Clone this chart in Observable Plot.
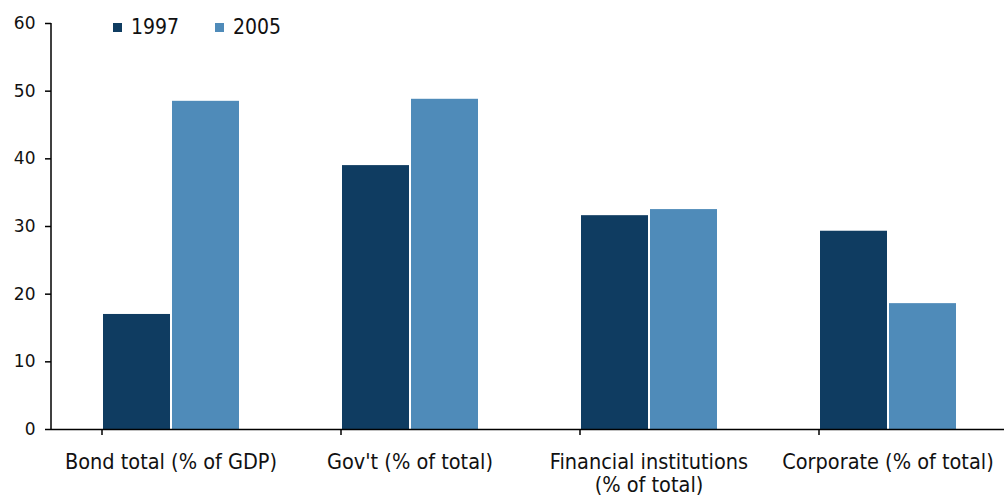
<!DOCTYPE html>
<html>
<head>
<meta charset="utf-8">
<script src="https://cdn.jsdelivr.net/npm/d3@7"></script>
<script src="https://cdn.jsdelivr.net/npm/@observablehq/plot@0.6"></script>
<style>
  body { margin: 0; background: #fff; }
  #wrap { position: relative; width: 1004px; height: 502px; font-family: "DejaVu Sans Condensed", "DejaVu Sans", sans-serif; }
  #legend { position: absolute; left: 0; top: 0; font-size: 21px; color: #111; }
  .item { position: absolute; top: 14px; display: flex; align-items: center; white-space: nowrap; line-height: 26px; }
  .sw { width: 9px; height: 9px; margin-right: 9px; }
</style>
</head>
<body>
<div id="wrap"><div id="legend"></div></div>
<script>
const categories = ["Bond total (% of GDP)", "Gov't (% of total)", "Financial institutions\n(% of total)", "Corporate (% of total)"];
const years = ["1997", "2005"];
const values1997 = [17.0, 39.0, 31.6, 29.3];
const values2005 = [48.5, 48.8, 32.5, 18.6];
const yTicks = [0, 10, 20, 30, 40, 50, 60];
const colors = ["#0f3c61", "#4f8bb9"];

const data = [];
categories.forEach((c, i) => {
  data.push({category: c, year: years[0], value: values1997[i]});
  data.push({category: c, year: years[1], value: values2005[i]});
});

const chart = Plot.plot({
  width: 1004,
  height: 502,
  marginLeft: 51,
  marginRight: -3,
  marginTop: 23,
  marginBottom: 73,
  style: {fontFamily: "'DejaVu Sans Condensed', 'DejaVu Sans', sans-serif", fontSize: "19px", color: "#111", background: "#fff"},
  fx: {domain: categories, paddingInner: 0, paddingOuter: 0, label: null},
  x: {domain: years, paddingInner: 0.035, paddingOuter: 0.73, axis: null},
  y: {domain: [0, 60], label: null},
  color: {domain: years, range: colors},
  marks: [
    Plot.barY(data, {fx: "category", x: "year", y: "value", fill: "year"}),
    Plot.ruleY([0], {stroke: "#000", strokeWidth: 1.5}),
    Plot.axisFx({anchor: "bottom", tickSize: 0, tickPadding: 23, fontSize: 21.5, lineHeight: 1.07, label: null, fill: "#111"}),
    Plot.axisY({ticks: yTicks, tickSize: 6, tickPadding: 10, fontSize: 17, fontFamily: "DejaVu Sans", label: null, fill: "#111", stroke: "#000", strokeWidth: 1.5})
  ]
});

document.getElementById("wrap").appendChild(chart);

// y axis line and category boundary ticks drawn through the chart's scales
const fx = chart.scale("fx");
const y = chart.scale("y");
const svg = d3.select(chart);
const y0 = y.apply(0), y60 = y.apply(60);
const bounds = categories.map(c => fx.apply(c) + 51);
bounds.push(bounds[bounds.length - 1] + fx.bandwidth);
svg.append("line").attr("x1", 51).attr("x2", 51).attr("y1", y60).attr("y2", y0)
  .attr("stroke", "#000").attr("stroke-width", 1.5);
bounds.forEach(b => {
  svg.append("line").attr("x1", b).attr("x2", b).attr("y1", y0).attr("y2", y0 + 6)
    .attr("stroke", "#000").attr("stroke-width", 1.5);
});

// legend
const legend = document.getElementById("legend");
const legendX = [113, 215];
years.forEach((yr, i) => {
  const it = document.createElement("div");
  it.className = "item";
  it.style.left = legendX[i] + "px";
  it.innerHTML = `<span class="sw" style="background:${colors[i]}"></span><span>${yr}</span>`;
  legend.appendChild(it);
});
</script>
</body>
</html>
